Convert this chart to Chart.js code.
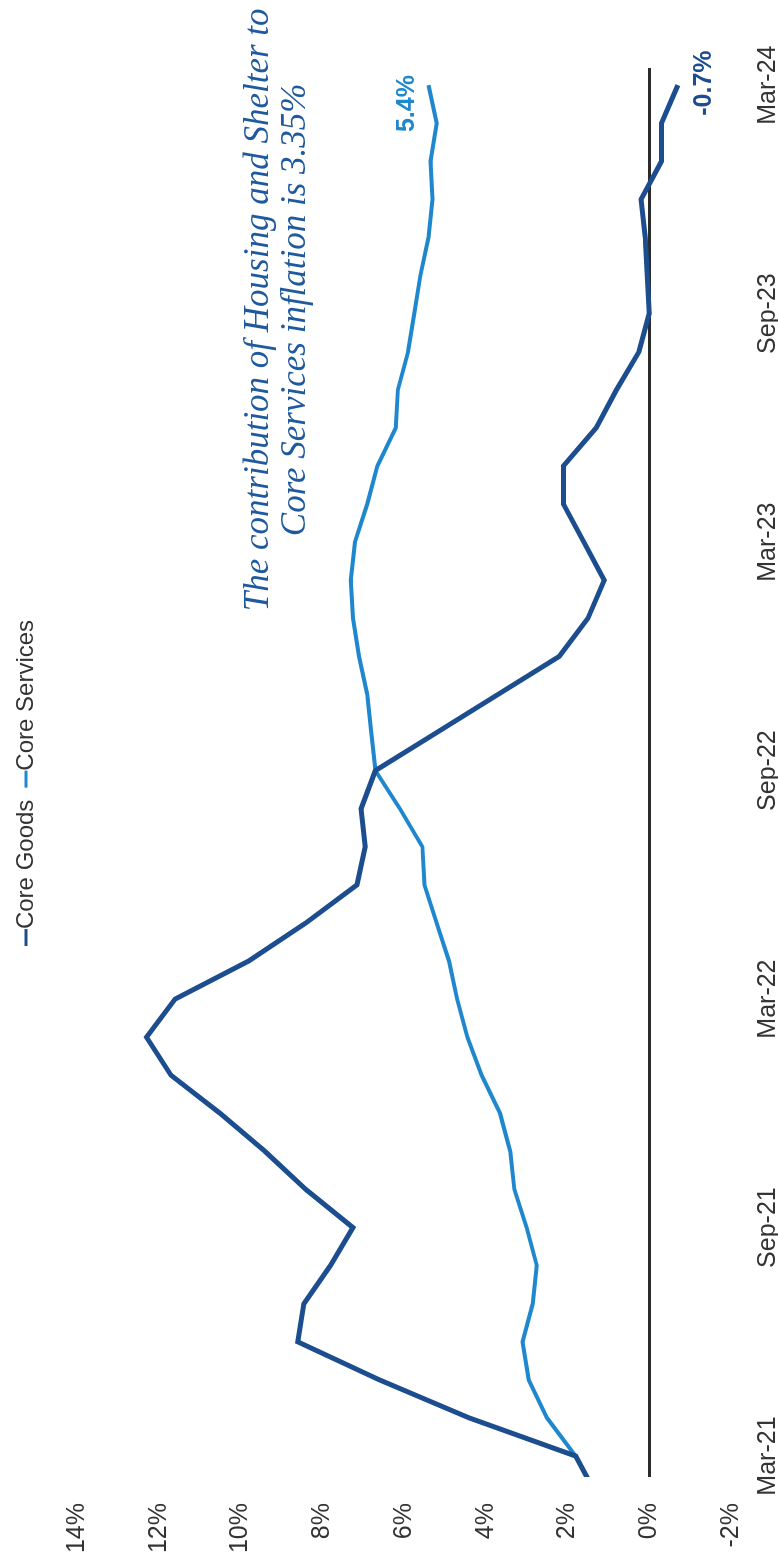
<!DOCTYPE html>
<html>
<head>
<meta charset="utf-8">
<script src="https://cdn.jsdelivr.net/npm/chart.js@4.4.1/dist/chart.umd.min.js"></script>
<style>
  html, body { margin: 0; padding: 0; background: #fff; overflow: hidden; }
  /* chart is laid out landscape, then turned on its side */
  #wrap {
    position: absolute; left: 0; top: 0;
    width: 1566px; height: 778px;
    transform-origin: 0 0;
    transform: translate(0, 1566px) rotate(-90deg);
  }
</style>
</head>
<body>
<div id="wrap"><canvas id="cpi" width="1566" height="778"></canvas></div>
<script>
// monthly series, Feb-21 .. Mar-24
const months = [
  'Feb-21','Mar-21','Apr-21','May-21','Jun-21','Jul-21','Aug-21','Sep-21','Oct-21','Nov-21','Dec-21',
  'Jan-22','Feb-22','Mar-22','Apr-22','May-22','Jun-22','Jul-22','Aug-22','Sep-22','Oct-22','Nov-22','Dec-22',
  'Jan-23','Feb-23','Mar-23','Apr-23','May-23','Jun-23','Jul-23','Aug-23','Sep-23','Oct-23','Nov-23','Dec-23',
  'Jan-24','Feb-24','Mar-24'
];
const coreGoods = [
  1.3, 1.8, 4.4, 6.6, 8.6, 8.45, 7.8, 7.25, 8.4, 9.4, 10.5,
  11.7, 12.3, 11.6, 9.8, 8.4, 7.15, 6.95, 7.05, 6.7, 5.2, 3.7, 2.2,
  1.5, 1.1, 1.6, 2.1, 2.1, 1.3, 0.8, 0.25, 0.0, 0.05, 0.1, 0.2,
  -0.3, -0.3, -0.7
];
const coreServices = [
  1.3, 1.8, 2.5, 2.95, 3.1, 2.85, 2.75, 3.0, 3.3, 3.4, 3.65,
  4.1, 4.45, 4.7, 4.9, 5.2, 5.5, 5.55, 6.1, 6.7, 6.8, 6.9, 7.1,
  7.25, 7.3, 7.2, 6.9, 6.65, 6.2, 6.15, 5.9, 5.75, 5.6, 5.4, 5.3,
  5.35, 5.2, 5.4
];
const tickMonths = ['Mar-21', 'Sep-21', 'Mar-22', 'Sep-22', 'Mar-23', 'Sep-23', 'Mar-24'];
const note = ['The contribution of Housing and Shelter to', 'Core Services inflation is 3.35%'];

const GOODS = '#1c4e8f';
const SERVICES = '#1f87cd';
const SANS = '"Liberation Sans", Arial, sans-serif';

const toPoints = vals => vals.map((v, i) => ({ x: i, y: v }));

// legend row: short dash right against the series name
const legendRow = {
  id: 'legendRow',
  afterDraw(chart) {
    const ctx = chart.ctx;
    const dash = 17, gap = 12, y = 26;
    ctx.save();
    ctx.font = '24px ' + SANS;
    const items = chart.data.datasets.map(ds => ({
      text: ds.label,
      color: ds.borderColor,
      w: dash + ctx.measureText(ds.label).width
    }));
    const total = items.reduce((s, it) => s + it.w, 0) + gap * (items.length - 1);
    let x = (chart.width - total) / 2;
    items.forEach(it => {
      ctx.strokeStyle = it.color;
      ctx.lineWidth = 3;
      ctx.beginPath();
      ctx.moveTo(x, y);
      ctx.lineTo(x + dash, y);
      ctx.stroke();
      ctx.fillStyle = '#333';
      ctx.textAlign = 'left';
      ctx.textBaseline = 'middle';
      ctx.fillText(it.text, x + dash, y);
      x += it.w + gap;
    });
    ctx.restore();
  }
};

// value labels at the last point of each line
const endLabels = {
  id: 'endLabels',
  afterDatasetsDraw(chart) {
    const ctx = chart.ctx;
    ctx.save();
    ctx.font = 'bold 25px ' + SANS;
    chart.data.datasets.forEach((ds, i) => {
      const pts = chart.getDatasetMeta(i).data;
      const last = pts[pts.length - 1];
      const txt = ds.data[ds.data.length - 1].y.toFixed(1) + '%';
      ctx.fillStyle = ds.borderColor;
      if (i === 1) {
        ctx.textAlign = 'right';
        ctx.textBaseline = 'alphabetic';
        ctx.fillText(txt, last.x + 10, last.y - 15);
      } else {
        ctx.textAlign = 'center';
        ctx.textBaseline = 'top';
        ctx.fillText(txt, last.x + 2, last.y + 14);
      }
    });
    ctx.restore();
  }
};

// italic note over the right half of the plot
const noteText = {
  id: 'noteText',
  afterDraw(chart) {
    const ctx = chart.ctx;
    const cx = chart.scales.x.getPixelForValue(31.1);
    const by = chart.scales.y.getPixelForValue(9.32);
    ctx.save();
    ctx.font = 'italic 35px "Liberation Serif", "Times New Roman", serif';
    ctx.fillStyle = '#1f5a9e';
    ctx.textAlign = 'center';
    ctx.textBaseline = 'alphabetic';
    note.forEach((line, i) => ctx.fillText(line, cx, by + i * 37));
    ctx.restore();
  }
};

new Chart(document.getElementById('cpi').getContext('2d'), {
  type: 'line',
  data: {
    datasets: [
      {
        label: 'Core Goods',
        data: toPoints(coreGoods),
        borderColor: GOODS,
        backgroundColor: GOODS,
        borderWidth: 5,
        pointRadius: 0,
        tension: 0
      },
      {
        label: 'Core Services',
        data: toPoints(coreServices),
        borderColor: SERVICES,
        backgroundColor: SERVICES,
        borderWidth: 4,
        pointRadius: 0,
        tension: 0
      }
    ]
  },
  options: {
    responsive: false,
    animation: false,
    layout: { padding: { top: 77, left: 0, right: 68, bottom: 0 } },
    plugins: {
      legend: { display: false },
      tooltip: { enabled: false }
    },
    scales: {
      x: {
        type: 'linear',
        min: 0.45,
        max: 37.45,
        afterBuildTicks: scale => {
          scale.ticks = tickMonths.map(m => ({ value: months.indexOf(m) }));
        },
        afterFit: scale => { scale.height = 47; },
        ticks: {
          autoSkip: false,
          maxRotation: 0,
          padding: 14,
          color: '#333',
          font: { family: SANS, size: 25 },
          callback: v => months[v]
        },
        grid: { display: false },
        border: { display: false }
      },
      y: {
        min: -2,
        max: 14,
        afterFit: scale => { scale.width = 89; },
        ticks: {
          stepSize: 2,
          padding: 26,
          color: '#333',
          font: { family: SANS, size: 25 },
          callback: v => v + '%'
        },
        grid: {
          drawTicks: false,
          lineWidth: 3,
          color: c => (c.tick && c.tick.value === 0 ? '#2b2b2b' : 'rgba(0,0,0,0)')
        },
        border: { display: false }
      }
    }
  },
  plugins: [legendRow, endLabels, noteText]
});
</script>
</body>
</html>
